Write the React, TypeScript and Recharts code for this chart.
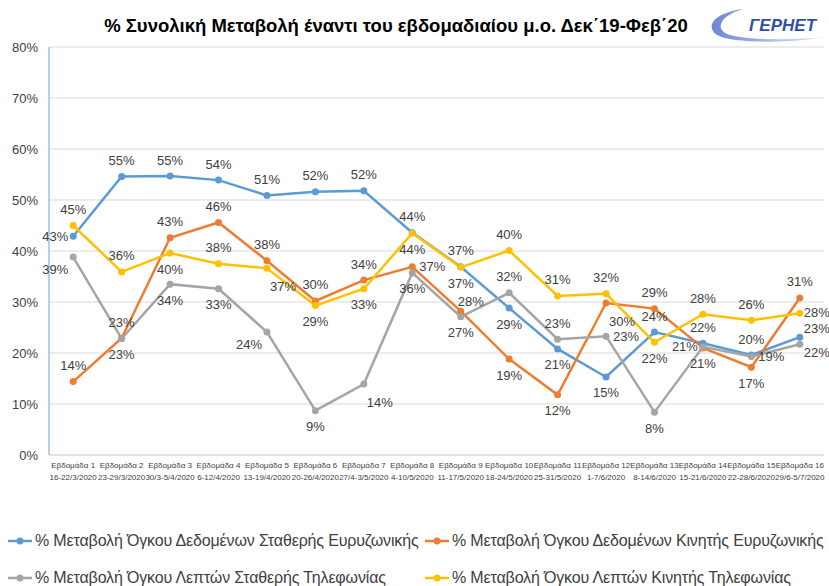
import { LineChart, Line, XAxis, YAxis, CartesianGrid, Legend, LabelList } from 'recharts';

const weeks = [
  'Εβδομάδα 1', 'Εβδομάδα 2', 'Εβδομάδα 3', 'Εβδομάδα 4', 'Εβδομάδα 5', 'Εβδομάδα 6',
  'Εβδομάδα 7', 'Εβδομάδα 8', 'Εβδομάδα 9', 'Εβδομάδα 10', 'Εβδομάδα 11', 'Εβδομάδα 12',
  'Εβδομάδα 13', 'Εβδομάδα 14', 'Εβδομάδα 15', 'Εβδομάδα 16',
];
const dates = [
  '16-22/3/2020', '23-29/3/2020', '30/3-5/4/2020', '6-12/4/2020', '13-19/4/2020', '20-26/4/2020',
  '27/4-3/5/2020', '4-10/5/2020', '11-17/5/2020', '18-24/5/2020', '25-31/5/2020', '1-7/6/2020',
  '8-14/6/2020', '15-21/6/2020', '22-28/6/2020', '29/6-5/7/2020',
];

// % change
const fixedData = [42.9, 54.6, 54.7, 53.9, 50.9, 51.6, 51.8, 43.6, 36.9, 28.8, 20.8, 15.3, 24.1, 21.9, 19.6, 23.1];
const mobileData = [14.4, 22.9, 42.6, 45.6, 38.1, 30.2, 34.3, 36.9, 28.2, 18.8, 11.8, 29.8, 28.7, 21.0, 17.2, 30.8];
const fixedVoice = [38.8, 22.8, 33.5, 32.6, 24.1, 8.7, 13.9, 35.7, 27.1, 31.8, 22.7, 23.3, 8.4, 21.2, 19.3, 21.7];
const mobileVoice = [45.0, 35.9, 39.6, 37.5, 36.6, 29.3, 32.6, 43.5, 36.8, 40.1, 31.2, 31.6, 22.1, 27.6, 26.4, 27.8];

const yTicks = [0, 10, 20, 30, 40, 50, 60, 70, 80];

const seriesNames = [
  '% Μεταβολή Όγκου Δεδομένων Σταθερής Ευρυζωνικής',
  '% Μεταβολή Όγκου Δεδομένων Κινητής Ευρυζωνικής',
  '% Μεταβολή Όγκου Λεπτών Σταθερής Τηλεφωνίας',
  '% Μεταβολή Όγκου Λεπτών Κινητής Τηλεφωνίας',
];

// where each data label sits relative to its point
const fixedDataPos = ['l', 't', 't', 't', 't', 't', 't', 't', 't', 'b', 'b', 'b', 't', 't', 't', 'Ru'];
const mobileDataPos = ['t', 'b', 't', 't', 't', 't', 't', 'r', 'tr', 'b', 'b', 'br', 't', 'b', 'b', 't'];
const fixedVoicePos = ['bl', 't', 'b', 'b', 'bl', 'b', 'br', 'b', 'b', 't', 't', 'r', 'b', 'l', 'r', 'Rd'];
const mobileVoicePos = ['t', 't', 'b', 't', 'br', 'b', 'b', 'b', 'b', 't', 't', 't', 'b', 't', 't', 'R'];

const data = weeks.map((w, i) => ({
  week: w,
  date: dates[i],
  fixedData: fixedData[i],
  mobileData: mobileData[i],
  fixedVoice: fixedVoice[i],
  mobileVoice: mobileVoice[i],
}));

const COLORS = ['#5b9bd5', '#ed7d31', '#a5a5a5', '#ffc000'];
const FONT = '"Liberation Sans", Arial, sans-serif';
const TEXT = '#404040';

function makeLabel(places: string[]) {
  return (props: any) => {
    const { x, y, value, index } = props;
    if (x == null || y == null) return null;
    let dx = 0;
    let dy = 0;
    let anchor = 'middle';
    switch (places[index]) {
      case 't': dy = -16; break;
      case 'b': dy = 16; break;
      case 'l': dx = -5; anchor = 'end'; break;
      case 'r': dx = 7; anchor = 'start'; break;
      case 'R': dx = 4; dy = -1; anchor = 'start'; break;
      case 'Ru': dx = 4; dy = -9; anchor = 'start'; break;
      case 'Rd': dx = 4; dy = 8; anchor = 'start'; break;
      case 'bl': dx = -5; dy = 12; anchor = 'end'; break;
      case 'br': dx = 3; dy = 18; anchor = 'start'; break;
      case 'tr': dx = -3; dy = -10; anchor = 'start'; break;
    }
    return (
      <text x={x + dx} y={y + dy} textAnchor={anchor} dominantBaseline="central"
        fontSize={13} fontFamily={FONT} fill={TEXT}>
        {Math.round(value)}%
      </text>
    );
  };
}

const XTick = (props: any) => {
  const { x, y, payload, index } = props;
  return (
    <text x={x} y={y} textAnchor="middle" fontSize={8} fontFamily={FONT} fill={TEXT}>
      <tspan x={x} dy={5}>{payload.value}</tspan>
      <tspan x={x} dy={12}>{dates[index]}</tspan>
    </text>
  );
};

const LegendBox = (props: any) => {
  const items = [...(props.payload || [])].sort(
    (a: any, b: any) => seriesNames.indexOf(a.value) - seriesNames.indexOf(b.value)
  );
  return (
    <div style={{ position: 'relative', width: 829, height: 91, fontFamily: FONT, fontSize: 16, color: TEXT }}>
      {items.map((it: any, i: number) => {
        const left = i % 2 === 0 ? 8 : 425;
        const top = i < 2 ? 46 : 83;
        return (
          <div key={i} style={{ position: 'absolute', left, top: top - 10, height: 20, display: 'flex', alignItems: 'center', whiteSpace: 'nowrap' }}>
            <svg width={24} height={10} style={{ marginRight: 3 }}>
              <line x1={0} y1={5} x2={24} y2={5} stroke={it.color} strokeWidth={2.5} />
              <circle cx={12} cy={5} r={3.5} fill={it.color} />
            </svg>
            <span style={{ letterSpacing: -0.15 }}>{it.value}</span>
          </div>
        );
      })}
    </div>
  );
};

const Logo = () => (
  <svg width={126} height={42} style={{ position: 'absolute', left: 703, top: 3 }}>
    <defs>
      <linearGradient id="sw" x1="0" y1="0" x2="1" y2="0">
        <stop offset="0" stopColor="#6f86d6" />
        <stop offset="1" stopColor="#dfe7fb" />
      </linearGradient>
    </defs>
    <path d="M40 6 C10 10 2 24 14 32 C30 41 90 40 122 34 C95 37 35 38 22 30 C12 23 20 12 40 6 Z" fill="url(#sw)" />
    <text x={46} y={28} fontSize={17} fontWeight="bold" fontStyle="italic" fontFamily={FONT} fill="#2f4fa8">ΓΕΡΗΕΤ</text>
  </svg>
);

export default function App() {
  return (
    <div style={{ position: 'absolute', left: 0, top: 0, width: 829, height: 586, background: '#fff' }}>
      <LineChart width={829} height={586} data={data} margin={{ top: 47, right: 5, bottom: 0, left: 0 }}>
        <CartesianGrid stroke="#d9d9d9" vertical={false} />
        <XAxis dataKey="week" height={40} tick={<XTick />} tickLine={false} axisLine={{ stroke: '#d9d9d9' }}
          interval={0} padding={{ left: 24.2, right: 24.2 }} />
        <YAxis domain={[0, 80]} ticks={yTicks} width={49} tickFormatter={(v) => `${v}%`} tickLine={false} tickMargin={5}
          axisLine={{ stroke: '#9dc3e6', strokeWidth: 1.5 }} tick={{ fontSize: 13, fontFamily: FONT, fill: TEXT }} />
        <Legend verticalAlign="bottom" content={<LegendBox />} />
        <Line dataKey="fixedData" name={seriesNames[0]} stroke={COLORS[0]} strokeWidth={2.5} dot={{ r: 3.5, fill: COLORS[0], strokeWidth: 0 }} isAnimationActive={false}>
          <LabelList dataKey="fixedData" content={makeLabel(fixedDataPos)} />
        </Line>
        <Line dataKey="mobileData" name={seriesNames[1]} stroke={COLORS[1]} strokeWidth={2.5} dot={{ r: 3.5, fill: COLORS[1], strokeWidth: 0 }} isAnimationActive={false}>
          <LabelList dataKey="mobileData" content={makeLabel(mobileDataPos)} />
        </Line>
        <Line dataKey="fixedVoice" name={seriesNames[2]} stroke={COLORS[2]} strokeWidth={2.5} dot={{ r: 3.5, fill: COLORS[2], strokeWidth: 0 }} isAnimationActive={false}>
          <LabelList dataKey="fixedVoice" content={makeLabel(fixedVoicePos)} />
        </Line>
        <Line dataKey="mobileVoice" name={seriesNames[3]} stroke={COLORS[3]} strokeWidth={2.5} dot={{ r: 3.5, fill: COLORS[3], strokeWidth: 0 }} isAnimationActive={false}>
          <LabelList dataKey="mobileVoice" content={makeLabel(mobileVoicePos)} />
        </Line>
      </LineChart>
      <div style={{ position: 'absolute', left: 0, width: 792, top: 15, textAlign: 'center', fontFamily: FONT, fontWeight: 'bold', fontSize: 18.5, color: '#000' }}>
        % Συνολική Μεταβολή έναντι του εβδομαδιαίου μ.ο. Δεκ΄19-Φεβ΄20
      </div>
      <Logo />
    </div>
  );
}
